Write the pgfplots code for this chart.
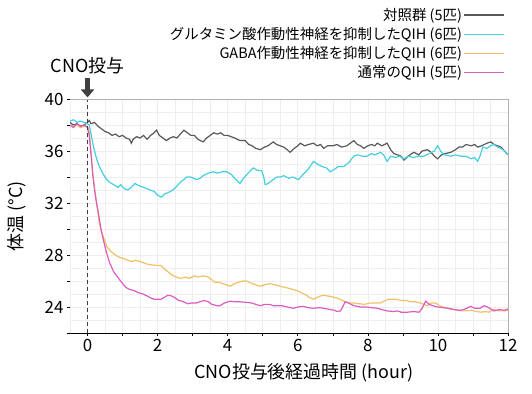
\documentclass[border=0pt]{standalone}
\usepackage{pgfplots}
\pgfplotsset{compat=1.18}
\usepackage{fontspec}
\setmainfont{Noto Sans CJK JP}
\usetikzlibrary{arrows.meta}
\definecolor{cgrey}{HTML}{595959}
\definecolor{ccyan}{HTML}{45D0E0}
\definecolor{corange}{HTML}{F2C065}
\definecolor{cpink}{HTML}{DD5CBF}
\definecolor{cdark}{HTML}{404040}
\definecolor{gridc}{HTML}{EEEEEE}
\begin{document}
\begin{tikzpicture}
\useasboundingbox (-70bp,-61bp) rectangle (462bp,333bp);
\begin{axis}[
  at={(0,0)}, anchor=south west,
  scale only axis, width=438bp, height=234bp,
  xmin=-0.5, xmax=12, ymin=22, ymax=40,
  axis x line*=bottom, axis y line*=left,
  axis line style={black, line width=0.8bp},
  xtick={0,2,...,12}, minor xtick={1,3,...,11},
  ytick={24,28,...,40}, minor ytick={22,26,...,38},
  tick align=outside, major tick length=3bp, minor tick length=3bp,
  tick style={black, line width=0.6bp},
  tick label style={font=\fontsize{17}{20}\selectfont},
  /pgf/number format/assume math mode=true,
  xlabel={CNO投与後経過時間 (hour)}, ylabel={体温 (°C)},
  label style={font=\fontsize{18}{22}\selectfont},
  xlabel style={at={(axis description cs:0.534,-0.171)}, anchor=center},
  ylabel style={at={(axis description cs:-0.121,0.5)}, anchor=center},
  clip mode=individual,
  legend cell align=right,
  legend plot pos=right,
  legend style={at={(axis description cs:0.993,1.395)}, anchor=north east,
    draw=none, fill=none, font=\fontsize{14.5}{17}\selectfont,
    inner sep=0pt, row sep=2.5bp, nodes={inner sep=1.5bp}},
  legend image code/.code={\draw[#1,line width=1.3bp] (2bp,0bp) -- (42bp,0bp);},
  every axis plot/.append style={line width=1.2bp},
]
\pgfplotsinvokeforeach{-0.5,0,0.5,1,1.5,2,2.5,3,3.5,4,4.5,5,5.5,6,6.5,7,7.5,8,8.5,9,9.5,10,10.5,11,11.5}{
  \draw[gridc, line width=0.6bp] (axis cs:#1,22) -- (axis cs:#1,40);}
\pgfplotsinvokeforeach{23,24,...,39}{
  \draw[gridc, line width=0.6bp] (axis cs:-0.5,#1) -- (axis cs:12,#1);}

\addplot[cgrey] coordinates {
(-0.5,38.2) (-0.4,38.0) (-0.3,38.1) (-0.2,37.9) (-0.1,38.0) (0,38.2) (0.05,38.35) (0.1,38.1) (0.2,38.2) (0.3,37.9) (0.4,37.7) (0.5,37.5) (0.6,37.4) (0.7,37.2) (0.8,37.3) (0.9,37.1) (1.0,37.2) (1.1,37.0) (1.2,36.9) (1.25,36.6) (1.3,36.9) (1.4,37.1) (1.5,37.0) (1.6,37.2) (1.7,36.9) (1.8,37.2) (1.9,37.4) (1.97,37.6) (2.05,37.2) (2.15,37.0) (2.25,36.8) (2.35,37.0) (2.45,37.1) (2.55,37.0) (2.65,37.3) (2.75,37.6) (2.85,37.4) (2.95,37.2) (3.05,37.2) (3.15,36.9) (3.3,36.7) (3.4,37.0) (3.5,37.2) (3.6,37.4) (3.7,37.3) (3.8,37.4) (3.9,37.2) (4.0,37.2) (4.1,37.1) (4.2,37.0) (4.35,36.8) (4.5,36.8) (4.6,36.5) (4.7,36.4) (4.8,36.2) (4.93,36.1) (5.05,36.3) (5.15,36.4) (5.3,36.7) (5.4,36.5) (5.5,36.4) (5.6,36.3) (5.7,36.1) (5.78,35.9) (5.9,36.2) (6.0,36.4) (6.07,36.6) (6.2,36.4) (6.3,36.5) (6.45,36.6) (6.55,36.4) (6.65,36.5) (6.74,36.2) (6.85,36.4) (7.0,36.4) (7.12,36.5) (7.25,36.3) (7.4,36.4) (7.5,36.6) (7.6,36.8) (7.7,36.5) (7.8,36.4) (7.88,36.2) (8.0,36.4) (8.1,36.5) (8.2,36.4) (8.27,36.6) (8.4,36.4) (8.55,36.6) (8.65,36.1) (8.74,35.8) (8.85,35.7) (8.95,35.6) (9.03,35.3) (9.15,35.6) (9.25,35.8) (9.32,35.9) (9.45,35.7) (9.55,36.0) (9.7,36.1) (9.8,35.9) (9.9,35.6) (9.99,35.4) (10.1,35.7) (10.2,35.8) (10.37,35.9) (10.5,36.1) (10.6,36.3) (10.7,36.3) (10.8,36.5) (10.95,36.4) (11.05,36.5) (11.13,36.3) (11.25,36.4) (11.4,36.6) (11.51,36.7) (11.6,36.5) (11.7,36.4) (11.8,36.3) (11.9,36.0) (12.0,35.7)
};
\addlegendentry{対照群 (5匹)}

\addplot[ccyan] coordinates {
(-0.5,38.3) (-0.4,38.4) (-0.3,38.2) (-0.2,38.3) (-0.1,38.2) (0,38.1) (0.05,38.0) (0.1,37.3) (0.15,36.6) (0.2,36.0) (0.27,35.3) (0.34,34.8) (0.45,34.2) (0.55,33.8) (0.63,33.6) (0.75,33.4) (0.87,33.2) (0.95,33.4) (1.05,33.1) (1.15,33.0) (1.25,33.2) (1.35,33.5) (1.49,33.3) (1.6,33.2) (1.7,33.1) (1.78,33.0) (1.9,32.9) (2.0,32.6) (2.11,32.45) (2.2,32.7) (2.3,32.8) (2.44,33.0) (2.55,33.3) (2.65,33.6) (2.75,33.8) (2.83,34.0) (2.95,34.0) (3.1,33.8) (3.21,33.9) (3.3,34.1) (3.45,34.3) (3.59,34.4) (3.7,34.3) (3.85,34.4) (3.97,34.4) (4.1,34.2) (4.2,33.9) (4.35,33.5) (4.45,33.9) (4.55,34.2) (4.65,34.5) (4.73,34.7) (4.85,34.5) (4.97,34.5) (5.03,34.0) (5.07,33.4) (5.15,33.5) (5.3,33.8) (5.4,34.0) (5.5,34.0) (5.6,34.1) (5.75,33.9) (5.85,34.0) (6.02,33.8) (6.15,34.2) (6.3,34.6) (6.45,35.2) (6.55,35.0) (6.7,34.8) (6.82,34.7) (6.93,34.4) (7.05,34.6) (7.15,34.8) (7.31,34.8) (7.45,35.1) (7.6,35.6) (7.7,35.7) (7.85,35.6) (7.98,35.6) (8.1,35.8) (8.2,35.7) (8.36,35.9) (8.45,35.7) (8.55,35.2) (8.65,35.6) (8.8,35.5) (8.9,35.6) (9.03,35.4) (9.15,35.6) (9.3,35.5) (9.45,35.6) (9.6,35.6) (9.75,35.8) (9.9,36.0) (9.99,36.4) (10.1,35.9) (10.2,35.7) (10.37,35.6) (10.5,35.7) (10.65,35.6) (10.8,35.6) (10.95,35.4) (11.05,35.5) (11.13,35.2) (11.2,35.6) (11.28,36.3) (11.4,36.2) (11.5,36.4) (11.6,36.5) (11.7,36.3) (11.8,36.2) (11.9,36.0) (12.0,35.7)
};
\addlegendentry{グルタミン酸作動性神経を抑制したQIH (6匹)}

\addplot[corange] coordinates {
(-0.5,38.0) (-0.4,37.9) (-0.3,38.0) (-0.2,37.8) (-0.1,37.9) (0,37.9) (0.05,37.5) (0.1,36.0) (0.15,34.3) (0.2,33.2) (0.25,32.2) (0.3,31.2) (0.34,30.4) (0.4,29.8) (0.49,29.1) (0.56,28.6) (0.66,28.3) (0.75,28.1) (0.85,27.9) (0.94,27.8) (1.05,27.7) (1.15,27.6) (1.25,27.5) (1.38,27.6) (1.49,27.5) (1.6,27.4) (1.7,27.3) (1.8,27.25) (1.97,27.2) (2.09,27.2) (2.2,26.9) (2.3,26.7) (2.44,26.4) (2.55,26.3) (2.66,26.2) (2.8,26.3) (2.9,26.2) (3.05,26.4) (3.15,26.3) (3.3,26.4) (3.45,26.3) (3.63,25.9) (3.75,25.9) (3.85,25.8) (3.97,25.7) (4.07,25.6) (4.2,25.8) (4.3,25.9) (4.45,26.0) (4.54,26.0) (4.7,25.8) (4.8,25.7) (4.93,25.6) (5.05,25.7) (5.2,25.8) (5.35,25.7) (5.5,25.6) (5.65,25.5) (5.8,25.4) (5.98,25.25) (6.1,25.1) (6.25,24.9) (6.35,24.7) (6.45,24.6) (6.6,24.8) (6.73,24.9) (6.85,24.85) (6.95,24.8) (7.1,24.7) (7.2,24.6) (7.35,24.4) (7.5,24.3) (7.6,24.3) (7.75,24.25) (7.9,24.2) (8.05,24.3) (8.2,24.3) (8.35,24.3) (8.5,24.5) (8.6,24.6) (8.8,24.6) (8.95,24.5) (9.1,24.5) (9.22,24.4) (9.36,24.4) (9.5,24.3) (9.6,24.2) (9.7,24.1) (9.8,24.3) (9.94,24.3) (10.05,24.1) (10.2,23.95) (10.35,23.85) (10.5,23.8) (10.65,23.7) (10.8,23.7) (10.95,23.75) (11.1,23.65) (11.23,23.6) (11.35,23.65) (11.45,23.6) (11.6,23.8) (11.75,23.7) (11.9,23.7) (12.0,23.75)
};
\addlegendentry{GABA作動性神経を抑制したQIH (6匹)}

\addplot[cpink] coordinates {
(-0.5,38.0) (-0.4,37.8) (-0.3,38.1) (-0.2,37.9) (-0.1,38.0) (0,37.8) (0.05,37.2) (0.1,35.7) (0.15,34.2) (0.2,33.0) (0.25,32.1) (0.3,31.4) (0.37,30.2) (0.44,29.3) (0.53,28.3) (0.63,27.4) (0.75,26.7) (0.86,26.3) (1.0,25.8) (1.1,25.5) (1.2,25.35) (1.34,25.25) (1.45,25.1) (1.58,25.0) (1.7,24.85) (1.8,24.7) (1.9,24.6) (2.0,24.6) (2.1,24.6) (2.2,24.75) (2.29,24.9) (2.4,24.85) (2.5,24.7) (2.6,24.5) (2.7,24.45) (2.86,24.25) (2.95,24.3) (3.1,24.3) (3.2,24.4) (3.34,24.5) (3.45,24.4) (3.55,24.2) (3.7,24.1) (3.78,24.1) (3.9,24.3) (4.07,24.45) (4.2,24.4) (4.35,24.4) (4.55,24.35) (4.7,24.3) (4.8,24.2) (4.93,24.1) (5.05,24.2) (5.2,24.2) (5.3,24.1) (5.41,24.1) (5.55,24.1) (5.7,24.0) (5.88,23.9) (6.0,24.0) (6.15,24.05) (6.3,23.95) (6.45,23.9) (6.6,23.95) (6.75,23.9) (6.93,23.8) (7.05,23.75) (7.12,23.65) (7.22,23.7) (7.3,24.1) (7.35,24.4) (7.45,24.3) (7.6,24.1) (7.79,24.0) (7.95,24.0) (8.1,23.95) (8.27,23.9) (8.4,23.8) (8.55,23.7) (8.74,23.65) (8.85,23.7) (8.95,23.6) (9.13,23.6) (9.3,23.65) (9.46,23.6) (9.55,23.9) (9.65,24.45) (9.75,24.2) (9.85,24.1) (9.99,24.0) (10.15,23.95) (10.3,23.9) (10.46,23.8) (10.6,23.75) (10.75,23.8) (10.85,23.95) (10.94,24.05) (11.05,23.9) (11.2,23.9) (11.32,24.1) (11.45,23.95) (11.6,23.7) (11.75,23.8) (11.9,23.75) (12.0,23.85)
};
\addlegendentry{通常のQIH (5匹)}

\draw[cdark, line width=1.4bp, dash pattern=on 4bp off 3bp] (axis cs:0,22) -- (axis cs:0,40);
\draw[gray!60, line width=0.8bp] (rel axis cs:0,1) -- (rel axis cs:1,1) -- (rel axis cs:1,0);
\draw[cdark, line width=5bp, -{Triangle[width=13bp,length=8bp]}] (axis cs:0,41.62) -- (axis cs:0,40.12);
\node[anchor=base, font=\fontsize{18}{22}\selectfont, inner sep=0pt] at (axis cs:0,42.0) {CNO投与};
\end{axis}
\end{tikzpicture}
\end{document}
